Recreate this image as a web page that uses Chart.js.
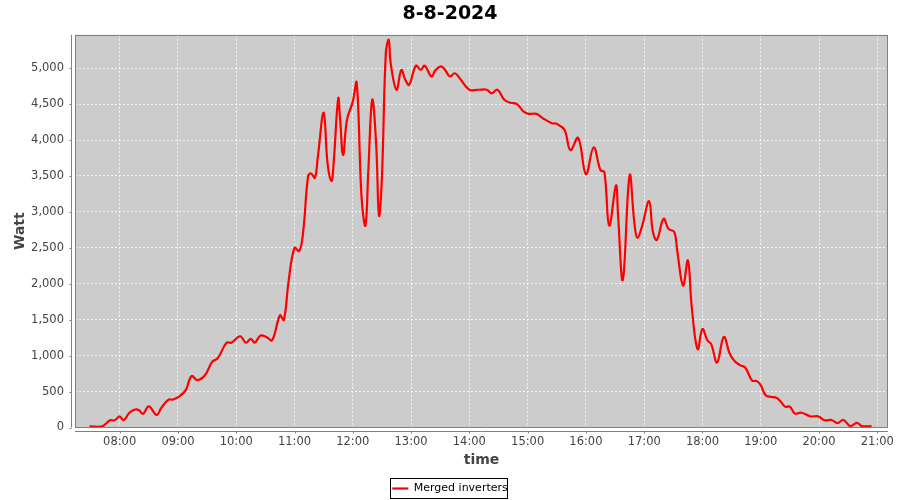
<!DOCTYPE html>
<html><head><meta charset="utf-8">
<script src="https://cdn.jsdelivr.net/npm/chart.js@4.4.1/dist/chart.umd.min.js"></script>
<style>html,body{margin:0;padding:0;background:#fff}#wrap{width:900px;height:500px}</style>
</head><body><div id="wrap"><canvas id="c" width="900" height="500"></canvas></div>
<script>
const chartTitle = '8-8-2024';
const seriesName = 'Merged inverters';
const xTitle = 'time';
const yTitle = 'Watt';

const times = ['07:29','07:42','07:50','07:55','08:00','08:04','08:10','08:16','08:20','08:24','08:30','08:38','08:43','08:50','08:55','09:01','09:08','09:14','09:20','09:28','09:35','09:41','09:50','09:55','10:04','10:10','10:15','10:19','10:25','10:31','10:37','10:45','10:49','10:54','11:00','11:05','11:09','11:14','11:17','11:21','11:24','11:30','11:34','11:38','11:40','11:45','11:47','11:50','11:54','12:00','12:04','12:09','12:13','12:16','12:20','12:24','12:27','12:30','12:34','12:37','12:39','12:45','12:50','12:54','12:58','13:05','13:10','13:14','13:21','13:25','13:31','13:35','13:40','13:45','13:50','14:00','14:09','14:18','14:23','14:29','14:36','14:42','14:49','14:56','15:01','15:09','15:16','15:25','15:30','15:38','15:44','15:52','16:00','16:08','16:15','16:19','16:24','16:31','16:33','16:38','16:45','16:50','16:53','16:58','17:05','17:09','17:13','17:20','17:25','17:31','17:34','17:40','17:45','17:49','17:55','18:00','18:05','18:09','18:15','18:22','18:28','18:33','18:39','18:44','18:51','18:56','19:00','19:05','19:11','19:16','19:20','19:25','19:30','19:35','19:42','19:51','19:59','20:06','20:13','20:19','20:25','20:32','20:39','20:44','20:54'];

const watts = [15,15,100,100,155,100,205,250,240,190,295,175,275,385,390,430,520,715,660,730,910,965,1180,1180,1270,1180,1235,1180,1280,1260,1215,1560,1495,2045,2500,2455,2735,3500,3535,3475,3765,4380,3675,3430,3625,4580,4280,3790,4280,4535,4800,3210,2810,3580,4560,3955,2950,3485,5210,5395,5070,4700,4975,4840,4770,5035,4975,5035,4885,4970,5025,4975,4885,4930,4860,4700,4700,4700,4650,4700,4560,4520,4500,4395,4365,4365,4300,4235,4225,4140,3860,4030,3525,3900,3580,3555,2810,3370,2975,2055,3510,2835,2640,2810,3150,2720,2610,2905,2765,2720,2460,1975,2325,1670,1090,1370,1215,1160,905,1260,1030,925,865,835,655,645,590,450,425,415,370,290,290,195,205,155,155,100,105,60,105,20,65,20,20];

const xTickLabels = ['08:00','09:00','10:00','11:00','12:00','13:00','14:00','15:00','16:00','17:00','18:00','19:00','20:00','21:00'];
const yTickValues = [0,500,1000,1500,2000,2500,3000,3500,4000,4500,5000];

const toMin = s => { const p = s.split(':').map(Number); return p[0]*60 + p[1]; };
const fmtMin = v => { const h = Math.floor(v/60), m = Math.round(v - h*60); return String(h).padStart(2,'0') + ':' + String(m).padStart(2,'0'); };

const points = times.map((t, i) => ({x: toMin(t), y: watts[i]}));

const FONT = 'DejaVu Sans';
const AXIS_GRAY = '#808080';

const decor = {
  id: 'decor',
  beforeDraw(chart) {
    const {ctx, chartArea: a} = chart;
    ctx.save();
    ctx.fillStyle = '#cccccc';
    ctx.fillRect(a.left, a.top, a.right - a.left, a.bottom - a.top);
    ctx.restore();
  },
  afterDraw(chart) {
    const {ctx, chartArea: a, scales} = chart;
    ctx.save();
    ctx.strokeStyle = AXIS_GRAY;
    ctx.lineWidth = 1;
    ctx.strokeRect(Math.round(a.left) + 0.5, Math.round(a.top) + 0.5, Math.round(a.right - a.left) - 1, Math.round(a.bottom - a.top) - 1);
    const ax = Math.round(a.left) - 3.5;
    const ay = Math.round(a.bottom) + 3.5;
    ctx.beginPath();
    ctx.moveTo(ax, a.top); ctx.lineTo(ax, a.bottom);
    ctx.moveTo(a.left, ay); ctx.lineTo(a.right, ay);
    scales.y.ticks.forEach(t => { const py = Math.round(scales.y.getPixelForValue(t.value)) + 0.5; ctx.moveTo(ax - 2, py); ctx.lineTo(ax, py); });
    scales.x.ticks.forEach(t => { const px = Math.round(scales.x.getPixelForValue(t.value)) + 0.5; ctx.moveTo(px, ay); ctx.lineTo(px, ay + 2); });
    ctx.stroke();
    const hb = chart.legend && chart.legend.legendHitBoxes && chart.legend.legendHitBoxes[0];
    if (hb) {
      ctx.strokeStyle = '#000000';
      ctx.strokeRect(Math.round(hb.left) - 1.5, Math.round(hb.top) - 4.5, Math.round(hb.width) + 2, Math.round(hb.height) + 9);
    }
    ctx.restore();
  }
};

new Chart(document.getElementById('c'), {
  type: 'line',
  data: {
    datasets: [{
      label: seriesName,
      data: points,
      borderColor: '#ff0000',
      backgroundColor: '#ff0000',
      borderWidth: 2.2,
      pointRadius: 0,
      tension: 0.4,
      fill: false
    }]
  },
  options: {
    responsive: false,
    devicePixelRatio: 1,
    animation: false,
    layout: {padding: {top: 0, left: 0, right: 0, bottom: -4}},
    plugins: {
      title: {
        display: true,
        text: chartTitle,
        color: '#000000',
        font: {family: FONT, size: 19, weight: 'bold'},
        padding: {top: 3, bottom: 9}
      },
      legend: {
        display: true,
        position: 'bottom',
        labels: {
          color: '#000000',
          font: {family: FONT, size: 11},
          usePointStyle: true,
          pointStyle: 'line',
          pointStyleWidth: 16,
          padding: 8
        }
      },
      tooltip: {enabled: false}
    },
    scales: {
      x: {
        type: 'linear',
        min: 434,
        max: 1271,
        afterBuildTicks: s => { s.ticks = xTickLabels.map(l => ({value: toMin(l)})); },
        afterFit: s => { s.height = 47.5; s.paddingLeft = 0; s.paddingRight = 12; },
        ticks: {
          callback: v => fmtMin(v),
          color: '#444444',
          font: {family: FONT, size: 11.5},
          padding: 8,
          maxRotation: 0,
          autoSkip: false
        },
        grid: {color: 'rgba(255,255,255,0.8)', lineWidth: 1, drawTicks: false},
        border: {display: false, dash: [2, 2]},
        title: {
          display: true,
          text: xTitle,
          color: '#444444',
          font: {family: FONT, size: 14, weight: 'bold'},
          padding: {top: 0, bottom: 6}
        }
      },
      y: {
        type: 'linear',
        min: 0,
        max: 5465,
        afterBuildTicks: s => { s.ticks = yTickValues.map(v => ({value: v})); },
        afterFit: s => { s.width = 75; },
        ticks: {
          callback: v => v.toLocaleString('en-US'),
          color: '#444444',
          font: {family: FONT, size: 11.5},
          padding: 11,
          autoSkip: false
        },
        grid: {color: 'rgba(255,255,255,0.8)', lineWidth: 1, drawTicks: false},
        border: {display: false, dash: [2, 2]},
        title: {
          display: true,
          text: yTitle,
          color: '#444444',
          font: {family: FONT, size: 14, weight: 'bold'},
          padding: {top: 12, bottom: 0}
        }
      }
    }
  },
  plugins: [decor]
});
</script>
</body></html>
